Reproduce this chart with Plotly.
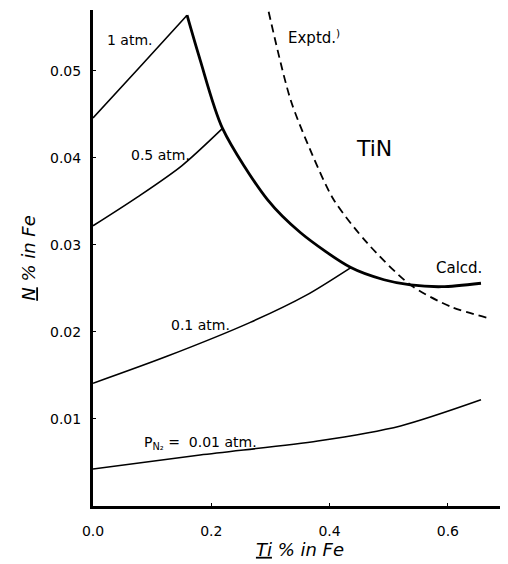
import plotly.graph_objects as go

# Data (x: Ti % in Fe, y: N % in Fe)
atm1_x = [0.0, 0.08, 0.159]
atm1_y = [0.0446, 0.0505, 0.0564]

atm05_x = [0.0, 0.075, 0.15, 0.219]
atm05_y = [0.0322, 0.0355, 0.0391, 0.0434]

atm01_x = [0.0, 0.125, 0.266, 0.36, 0.436]
atm01_y = [0.0141, 0.0172, 0.0211, 0.0242, 0.0274]

atm001_x = [0.0, 0.181, 0.38, 0.52, 0.656]
atm001_y = [0.00425, 0.00586, 0.00747, 0.0092, 0.0122]

calcd_x = [0.159, 0.181, 0.219, 0.295, 0.351, 0.436, 0.492, 0.537, 0.59, 0.656]
calcd_y = [0.0564, 0.0513, 0.0434, 0.0352, 0.0314, 0.0274, 0.0260, 0.0254, 0.0252, 0.0256]

exptd_x = [0.297, 0.334, 0.37, 0.407, 0.464, 0.537, 0.605, 0.668]
exptd_y = [0.0568, 0.0467, 0.0405, 0.0352, 0.0302, 0.0254, 0.0229, 0.0216]

x_ticks = [0.0, 0.2, 0.4, 0.6]
x_tick_labels = ["0.0", "0.2", "0.4", "0.6"]
y_ticks = [0.01, 0.02, 0.03, 0.04, 0.05]
y_tick_labels = ["0.01", "0.02", "0.03", "0.04", "0.05"]

labels = [
    ("1 atm.", 0.063, 0.0536, 14),
    ("0.5 atm.", 0.114, 0.0403, 14),
    ("0.1 atm.", 0.181, 0.0208, 14),
    ("P<sub>N₂</sub> =  0.01 atm.", 0.181, 0.00724, 14),
    ("Exptd.<sup>)</sup>", 0.373, 0.0539, 15),
    ("TiN", 0.475, 0.0411, 22),
    ("Calcd.", 0.619, 0.0274, 15),
]

FONT = "DejaVu Sans"
fig = go.Figure()

def add_line(x, y, width=1.6, dash="solid"):
    fig.add_trace(go.Scatter(x=x, y=y, mode="lines",
                             line=dict(color="black", width=width, dash=dash, shape="spline", smoothing=0.8),
                             showlegend=False, hoverinfo="skip"))

add_line(atm1_x, atm1_y)
add_line(atm05_x, atm05_y)
add_line(atm01_x, atm01_y)
add_line(atm001_x, atm001_y)
add_line(calcd_x, calcd_y, width=2.8)
add_line(exptd_x, exptd_y, width=1.8, dash="8px,5px")

for txt, x, y, s in labels:
    fig.add_annotation(x=x, y=y, text=txt, showarrow=False,
                       font=dict(family=FONT, size=s, color="black"))

# page body has an 8px margin, so the figure is shrunk and offset accordingly
fig.update_layout(
    width=500, height=556,
    margin=dict(l=85, r=1, t=2, b=58),
    paper_bgcolor="white", plot_bgcolor="white",
    font=dict(family=FONT, color="black"),
)
fig.update_xaxes(range=[0, 0.70], tickvals=x_ticks, ticktext=x_tick_labels,
                 showgrid=False, zeroline=False, showline=True, linecolor="black", linewidth=3,
                 ticks="inside", ticklen=3, tickcolor="black", ticklabelstandoff=10,
                 tickfont=dict(size=14, family=FONT),
                 title=dict(text="<i><span style='text-decoration:underline'>Ti</span> % in Fe</i>",
                            font=dict(size=18, family=FONT), standoff=0))
fig.update_yaxes(range=[0, 0.057], tickvals=y_ticks, ticktext=y_tick_labels,
                 showgrid=False, zeroline=False, showline=True, linecolor="black", linewidth=3,
                 ticks="inside", ticklen=3, tickcolor="black", ticklabelstandoff=6,
                 tickfont=dict(size=14, family=FONT),
                 title=dict(text="<i><span style='text-decoration:underline'>N</span> % in Fe</i>",
                            font=dict(size=18, family=FONT), standoff=10))

fig.write_html("out.html")
